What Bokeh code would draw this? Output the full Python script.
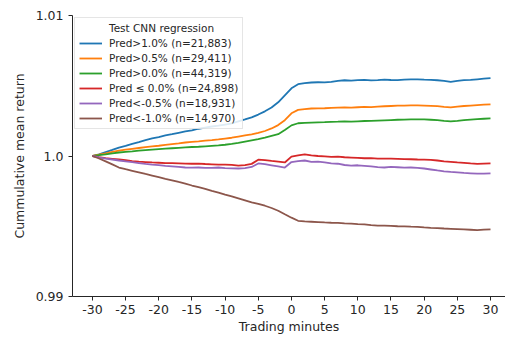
from bokeh.plotting import figure
from bokeh.models import (Range1d, FixedTicker, CustomJSTickFormatter, Legend,
                          LegendItem)
from bokeh.embed import file_html
from bokeh.resources import INLINE

# ---------------- data ----------------
minutes = list(range(-30, 31))

pred_gt_1_0 = [
    1.00000, 1.00012, 1.00028, 1.00043, 1.00060, 1.00072, 1.00086, 1.00099, 1.00113, 1.00125,
    1.00134, 1.00146, 1.00155, 1.00165, 1.00175, 1.00183, 1.00194, 1.00202, 1.00210, 1.00216,
    1.00224, 1.00232, 1.00246, 1.00260, 1.00275, 1.00295, 1.00318, 1.00345, 1.00382, 1.00432,
    1.00482, 1.00511, 1.00518, 1.00523, 1.00525, 1.00524, 1.00528, 1.00535, 1.00539, 1.00536,
    1.00540, 1.00542, 1.00538, 1.00540, 1.00543, 1.00541, 1.00540, 1.00544, 1.00545, 1.00546,
    1.00543, 1.00542, 1.00539, 1.00535, 1.00528, 1.00534, 1.00540, 1.00542, 1.00546, 1.00550,
    1.00554]

pred_gt_0_5 = [
    1.00000, 1.00009, 1.00018, 1.00030, 1.00039, 1.00045, 1.00051, 1.00057, 1.00063, 1.00068,
    1.00073, 1.00079, 1.00085, 1.00090, 1.00096, 1.00100, 1.00104, 1.00109, 1.00113, 1.00118,
    1.00124, 1.00130, 1.00138, 1.00146, 1.00154, 1.00164, 1.00178, 1.00196, 1.00220, 1.00255,
    1.00304, 1.00328, 1.00333, 1.00338, 1.00339, 1.00340, 1.00343, 1.00345, 1.00346, 1.00344,
    1.00347, 1.00350, 1.00348, 1.00351, 1.00354, 1.00356, 1.00358, 1.00359, 1.00361, 1.00361,
    1.00359, 1.00357, 1.00355, 1.00350, 1.00346, 1.00352, 1.00356, 1.00359, 1.00362, 1.00365,
    1.00368]

pred_gt_0_0 = [
    1.00000, 1.00006, 1.00012, 1.00019, 1.00025, 1.00029, 1.00033, 1.00038, 1.00042, 1.00046,
    1.00049, 1.00052, 1.00055, 1.00058, 1.00061, 1.00064, 1.00066, 1.00069, 1.00072, 1.00075,
    1.00080, 1.00086, 1.00093, 1.00102, 1.00111, 1.00120, 1.00131, 1.00143, 1.00155, 1.00185,
    1.00218, 1.00233, 1.00236, 1.00238, 1.00240, 1.00241, 1.00243, 1.00244, 1.00246, 1.00245,
    1.00247, 1.00249, 1.00250, 1.00252, 1.00254, 1.00256, 1.00258, 1.00259, 1.00260, 1.00261,
    1.00260, 1.00258, 1.00255, 1.00250, 1.00246, 1.00250, 1.00255, 1.00259, 1.00262, 1.00265,
    1.00268]

pred_le_0_0 = [
    1.00000, 0.99992, 0.99985, 0.99980, 0.99975, 0.99970, 0.99964, 0.99960, 0.99957, 0.99954,
    0.99952, 0.99950, 0.99950, 0.99948, 0.99946, 0.99945, 0.99946, 0.99943, 0.99941, 0.99939,
    0.99939, 0.99937, 0.99932, 0.99935, 0.99944, 0.99974, 0.99971, 0.99965, 0.99960, 0.99954,
    0.99996, 1.00004, 1.00011, 1.00004, 1.00000, 0.99997, 0.99994, 0.99996, 0.99991, 0.99989,
    0.99987, 0.99984, 0.99985, 0.99982, 0.99981, 0.99982, 0.99980, 0.99978, 0.99977, 0.99975,
    0.99974, 0.99973, 0.99968, 0.99962, 0.99958, 0.99954, 0.99951, 0.99947, 0.99944, 0.99946,
    0.99948]

pred_lt_m0_5 = [
    1.00000, 0.99990, 0.99982, 0.99975, 0.99968, 0.99962, 0.99956, 0.99950, 0.99944, 0.99939,
    0.99935, 0.99930, 0.99926, 0.99922, 0.99918, 0.99917, 0.99918, 0.99916, 0.99915, 0.99918,
    0.99914, 0.99912, 0.99911, 0.99914, 0.99922, 0.99947, 0.99942, 0.99934, 0.99926, 0.99918,
    0.99957, 0.99964, 0.99968, 0.99958, 0.99960, 0.99954, 0.99948, 0.99945, 0.99936, 0.99932,
    0.99934, 0.99930, 0.99926, 0.99921, 0.99918, 0.99922, 0.99920, 0.99917, 0.99918, 0.99916,
    0.99911, 0.99904, 0.99897, 0.99891, 0.99887, 0.99884, 0.99880, 0.99877, 0.99874, 0.99875,
    0.99877]

pred_lt_m1_0 = [
    1.00000, 0.99982, 0.99962, 0.99940, 0.99918, 0.99906, 0.99895, 0.99884, 0.99872, 0.99861,
    0.99850, 0.99838, 0.99827, 0.99815, 0.99804, 0.99790, 0.99778, 0.99766, 0.99752, 0.99739,
    0.99725, 0.99712, 0.99698, 0.99684, 0.99670, 0.99660, 0.99646, 0.99630, 0.99610, 0.99585,
    0.99561, 0.99539, 0.99534, 0.99532, 0.99530, 0.99527, 0.99525, 0.99524, 0.99520, 0.99518,
    0.99515, 0.99513, 0.99508, 0.99505, 0.99504, 0.99502, 0.99500, 0.99499, 0.99497, 0.99496,
    0.99492, 0.99489, 0.99487, 0.99484, 0.99482, 0.99480, 0.99478, 0.99475, 0.99472, 0.99476,
    0.99478]

series_labels = [
    "Pred>1.0% (n=21,883)",
    "Pred>0.5% (n=29,411)",
    "Pred>0.0% (n=44,319)",
    "Pred \u2264 0.0% (n=24,898)",
    "Pred<-0.5% (n=18,931)",
    "Pred<-1.0% (n=14,970)",
]
series_values = [pred_gt_1_0, pred_gt_0_5, pred_gt_0_0,
                 pred_le_0_0, pred_lt_m0_5, pred_lt_m1_0]
series_colors = ["#1f77b4", "#ff7f0e", "#2ca02c", "#d62728", "#9467bd", "#8c564b"]

legend_title = "Test CNN regression"
xticks = [-30, -25, -20, -15, -10, -5, 0, 5, 10, 15, 20, 25, 30]
xtick_labels = ["-30", "-25", "-20", "-15", "-10", "-5", "0",
                "5", "10", "15", "20", "25", "30"]
yticks = [0.99, 1.0, 1.01]
ytick_labels = ["0.99", "1.0", "1.01"]
x_label = "Trading minutes"
y_label = "Cummulative mean return"

# ---------------- figure ----------------
FONT = "DejaVu Sans"
TEXT = "#262626"

LOOKUP = """
    let best = 0, d = 1e9;
    for (let i = 0; i < tv.length; i++) {
        const dd = Math.abs(tv[i] - tick);
        if (dd < d) { d = dd; best = i; }
    }
    return tl[best];
"""

p = figure(width=505, height=340, output_backend="svg", toolbar_location=None,
           x_range=Range1d(-33.0, 32.26), y_range=Range1d(0.99, 1.01),
           min_border_left=72, min_border_right=0, min_border_top=15,
           min_border_bottom=44)
p.outline_line_color = None
p.xgrid.visible = False
p.ygrid.visible = False
p.background_fill_color = "white"
p.border_fill_color = "white"

renderers = []
for vals, col in zip(series_values, series_colors):
    r = p.line(minutes, vals, line_color=col, line_width=1.8)
    renderers.append(r)

# invisible renderer so the legend title sits aligned with the labels
title_r = p.line(x=[], y=[], line_alpha=0)

p.xaxis.ticker = FixedTicker(ticks=xticks)
p.yaxis.ticker = FixedTicker(ticks=yticks)
p.xaxis.formatter = CustomJSTickFormatter(args=dict(tv=xticks, tl=xtick_labels),
                                          code=LOOKUP)
p.yaxis.formatter = CustomJSTickFormatter(args=dict(tv=yticks, tl=ytick_labels),
                                          code=LOOKUP)
p.xaxis.axis_label = x_label
p.yaxis.axis_label = y_label

for ax in (p.xaxis[0], p.yaxis[0]):
    ax.axis_line_color = TEXT
    ax.axis_line_width = 1
    ax.major_tick_line_color = TEXT
    ax.major_tick_out = 4
    ax.major_tick_in = 0
    ax.minor_tick_out = 0
    ax.minor_tick_in = 0
    ax.major_label_text_font = FONT
    ax.major_label_text_font_size = "12.5px"
    ax.major_label_text_color = TEXT
    ax.axis_label_text_font = FONT
    ax.axis_label_text_font_size = "12.5px"
    ax.axis_label_text_font_style = "normal"
    ax.axis_label_text_color = TEXT
p.xaxis.major_label_standoff = 4
p.xaxis.axis_label_standoff = 2
p.yaxis.major_label_standoff = 5
p.yaxis.axis_label_standoff = 6

items = [LegendItem(label=legend_title, renderers=[title_r])]
for lab, r in zip(series_labels, renderers):
    items.append(LegendItem(label=lab, renderers=[r]))

legend = Legend(items=items, location="top_left", margin=2, padding=4,
                spacing=3, glyph_width=23, glyph_height=12, label_height=12,
                label_standoff=7, label_text_font=FONT,
                label_text_font_size="10.5px", label_text_color=TEXT,
                border_line_color="#cccccc", border_line_width=1,
                background_fill_color="white", background_fill_alpha=0.85)
p.add_layout(legend)

open("out.html", "w").write(file_html(p, INLINE))
